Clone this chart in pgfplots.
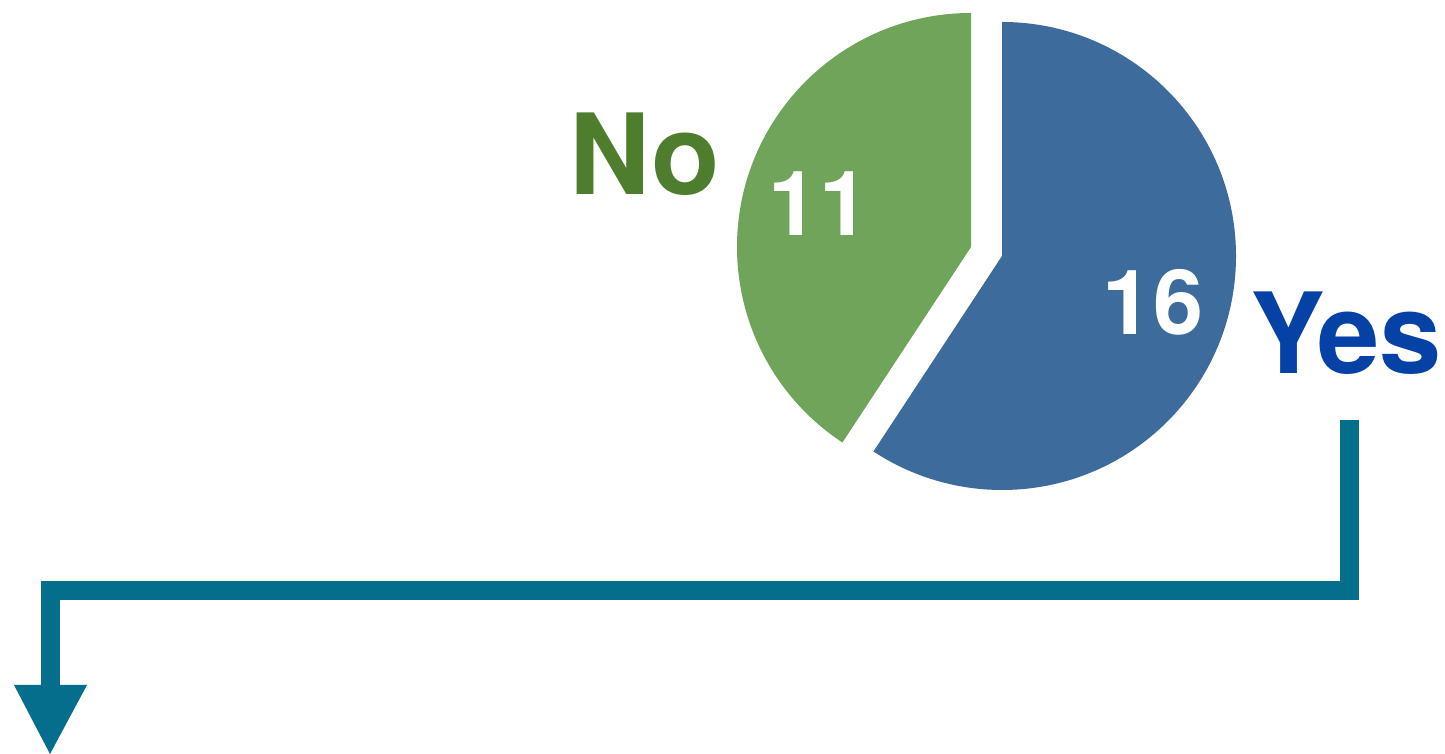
\documentclass[border=0pt]{standalone}
\usepackage{pgfplots}
\usepackage{pgfplotstable}
\pgfplotsset{compat=1.18}
\usepackage{fontspec}
\setmainfont{TeX Gyre Heros}
\definecolor{pieblue}{HTML}{3D6B9B}
\definecolor{piegreen}{HTML}{6FA45A}
\definecolor{notext}{HTML}{4E7D2E}
\definecolor{yestext}{HTML}{0641A6}
\definecolor{arrowcol}{HTML}{046E8C}
\pgfplotstableread{
label value
Yes 16
No 11
}\piedata
\begin{document}%
\begin{tikzpicture}
\pgfplotstablegetelem{0}{value}\of\piedata\let\vyes\pgfplotsretval
\pgfplotstablegetelem{1}{value}\of\piedata\let\vno\pgfplotsretval
\pgfmathsetmacro\angyes{360*\vyes/(\vyes+\vno)}
\pgfmathsetmacro\angno{360*\vno/(\vyes+\vno)}
\begin{axis}[
  width=722.5pt, height=377pt, scale only axis,
  xmin=0, xmax=1445, ymin=0, ymax=754,
  hide axis, clip=false,
]
\coordinate (sw) at (axis cs:0,0);
\coordinate (ne) at (axis cs:1445,754);
% Yes slice
\fill[pieblue] (axis cs:1002,498) -- ++(90:117pt)
  arc[start angle=90, end angle={90-\angyes}, radius=117pt] -- cycle;
% No slice (exploded)
\fill[piegreen] (axis cs:971,507) -- ++(90:117pt)
  arc[start angle=90, end angle={90+\angno}, radius=117pt] -- cycle;
% labels
\node[inner sep=0pt, anchor=base, text=notext, font=\fontsize{56}{60}\selectfont\bfseries] at (axis cs:645,559) {No};
\node[inner sep=0pt, anchor=base, text=white, font=\fontsize{45}{50}\selectfont\bfseries] at (axis cs:819,518) {\vno};
\node[inner sep=0pt, anchor=base, text=white, font=\fontsize{45}{50}\selectfont\bfseries] at (axis cs:1153,419) {\vyes};
\node[inner sep=0pt, anchor=base, text=yestext, font=\fontsize{56}{60}\selectfont\bfseries] at (axis cs:1346,380) {Yes};
% arrow
\draw[arrowcol, line width=9.5pt, line join=miter]
  (axis cs:1349.5,334) -- (axis cs:1349.5,163) -- (axis cs:50,163) -- (axis cs:50,68);
\fill[arrowcol] (axis cs:14,69) -- (axis cs:87,69) -- (axis cs:50,0) -- cycle;
\end{axis}
\pgfresetboundingbox
\path[use as bounding box] (sw) rectangle (ne);
\end{tikzpicture}%
\end{document}
